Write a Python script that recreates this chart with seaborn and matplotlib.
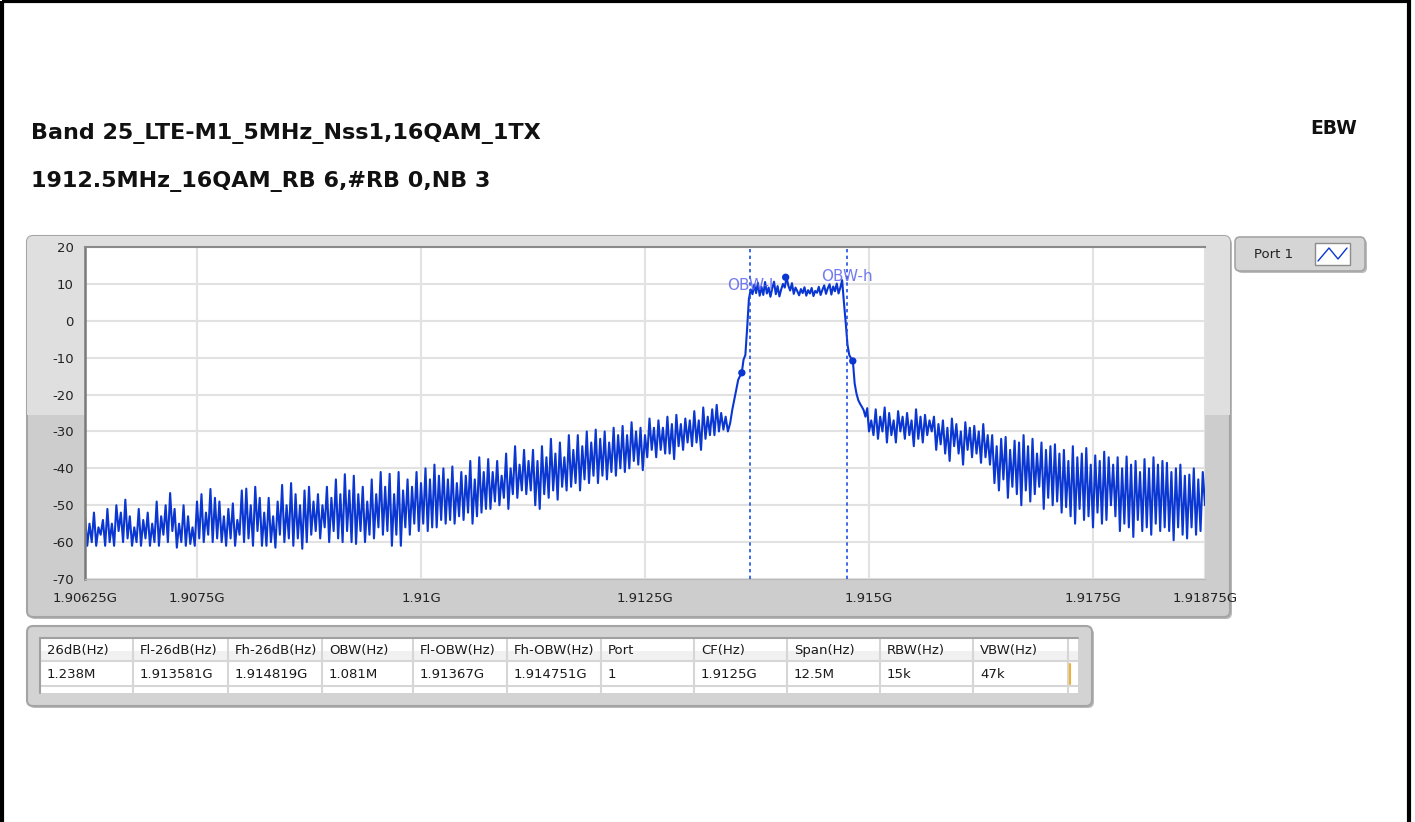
import numpy as np
import matplotlib
matplotlib.use("Agg")
import matplotlib.pyplot as plt
from matplotlib.patches import FancyBboxPatch, Rectangle
import seaborn as sns

title_1 = "Band 25_LTE-M1_5MHz_Nss1,16QAM_1TX"
title_2 = "1912.5MHz_16QAM_RB 6,#RB 0,NB 3"
mode_label = "EBW"
legend_label = "Port 1"

# spectrum trace (dB)
# left skirt, 1.90625G .. 1.9135G, 25 kHz steps
level_left = [
    -53, -61, -55, -60, -52, -61, -56, -58, -54, -61, -51, -60, -55, -61, -50, -57, -52, -60, -48.5, -59,
    -53, -61, -56, -60, -51, -61, -54, -59, -52, -61, -55, -60, -49, -61, -53, -58, -50, -60, -46.7, -57,
    -51, -61.5, -55, -60, -50, -61, -53, -60.5, -56, -61, -49, -59, -47, -60, -52, -58, -45.6, -60, -48, -59,
    -49, -60, -53, -61, -51, -59, -49.5, -61, -54, -58, -46, -60, -45.5, -59, -50, -61, -45, -57, -48, -61,
    -52, -61, -48, -60, -53, -61.5, -49, -58, -44.5, -60, -50, -59, -44, -61, -47, -59, -50, -61.8, -46, -60,
    -45, -58, -49, -57, -47, -59, -50, -56, -45, -60, -48, -57, -43, -59, -47, -60, -41.6, -57, -46, -60,
    -42, -60.5, -47, -57, -45, -60, -49, -58, -43, -59, -47, -56, -41, -58, -45, -57, -41.5, -61, -47, -58,
    -41, -61, -46, -56, -43, -58, -45, -55, -41, -57, -44, -55, -40, -57, -43, -56, -39, -56, -42, -54,
    -40, -55, -43, -54, -39.5, -55, -44, -53, -41, -54, -42, -52, -38, -55, -43, -53, -37, -52, -41, -51,
    -37.5, -51, -41, -49, -38, -50, -42, -48, -36, -51, -40, -47, -34, -48, -39, -46, -35, -47, -38, -46,
    -35, -50, -38, -51, -34, -47, -37, -48, -32, -46, -36, -48.5, -33, -45, -37, -46, -31, -45, -35, -44,
    -31, -46, -34, -43, -30, -44, -33, -42, -29.5, -44, -32, -42, -30, -43, -33, -41, -29, -42, -31, -40,
    -28.5, -41, -31, -40, -27.5, -38, -30, -39, -29, -40.5, -31, -37, -26.5, -35, -29, -37, -27, -35, -29, -36,
    -26, -36, -28, -37.5, -25.5, -34, -28, -35, -26.5, -33, -27, -34, -24.5, -33, -27, -35, -23.5, -32, -26, -31,
    -24, -31, -22.8, -30, -25, -29.5, -26, -30, -27.8, -24, -21,
]
# occupied band, 1.91352G .. 1.915G, 20 kHz steps
level_mid = [
    -18.5, -16, -15, -14.1, -10.5, -9.3, -2, 6,
    8.5, 7.2, 9.8, 7.5, 10.3, 6.8, 9.2, 7.0, 10.5, 7.4,
    9.0, 6.5, 8.8, 10.6, 7.2, 9.4, 6.6, 8.5, 10.0, 9.0,
    11.8, 9.5, 8.2, 10.2, 7.3, 9.0, 8.0, 6.9, 8.6, 7.5,
    9.1, 6.8, 8.3, 7.4, 8.9, 6.7, 8.1, 7.6, 9.2, 7.0,
    8.4, 9.6, 7.3, 8.8, 9.9, 7.1, 9.3, 8.0, 10.1, 7.4,
    9.0, 11.0,
    5.0, -0.5, -6.5, -9.3, -10.2, -10.9, -17, -19.7, -21.5, -22.5,
    -23.3, -24.2, -26, -23.7, -30,
]
# right skirt, 1.915025G .. 1.91875G, 25 kHz steps
level_right = [
    -27, -31, -24, -32, -26, -30, -23.5, -33, -25, -31, -27, -33, -24.5, -30,
    -26, -32, -25, -31, -27, -34, -24, -32, -26, -33, -25.5, -31, -27, -30,
    -26, -35, -28, -33.5, -27, -36, -29, -38, -26.5, -34, -28, -36, -30,
    -39, -27.5, -35, -29, -37, -28.5, -36, -30, -38.5, -28, -37, -31, -39,
    -31, -44, -34, -46, -32, -43, -31.5, -48, -35, -45, -32.5, -47, -33, -50,
    -31, -46, -34, -49, -32, -47, -36, -45, -33, -51, -35, -48, -34, -50,
    -33.5, -49, -36, -52, -35, -50.5, -38, -53, -34, -55, -37, -51, -36, -54,
    -34.5, -53, -39, -56, -36.5, -52, -38, -55, -35.5, -54, -37, -50, -39, -53,
    -37, -57, -40, -55, -36.8, -56, -39, -58.6, -38, -54, -41,
    -57, -37.5, -56, -40, -58, -37, -55, -39, -57, -38, -56,
    -38.5, -57, -41, -59.5, -40, -56, -39, -58, -42,
    -59, -41.7, -56, -40, -58, -43, -57, -41, -50,
]

freq_left = 1.90625 + 0.000025 * np.arange(len(level_left))
freq_mid = 1.9135 + 0.00002 * np.arange(1, len(level_mid) + 1)
freq_right = 1.915 + 0.000025 * np.arange(1, len(level_right) + 1)
freq = np.concatenate([freq_left, freq_mid, freq_right])
level = np.concatenate([level_left, level_mid, level_right])

marker_freq = [1.913581, 1.91407, 1.914819]
marker_level = [-14.1, 11.8, -10.9]

obw_freq = [1.91367, 1.914751]
obw_names = ["OBW-l", "OBW-h"]
obw_text_level = [9.6, 12.1]

x_ticks = [1.90625, 1.9075, 1.91, 1.9125, 1.915, 1.9175, 1.91875]
x_tick_labels = ["1.90625G", "1.9075G", "1.91G", "1.9125G", "1.915G", "1.9175G", "1.91875G"]
y_ticks = [-70, -60, -50, -40, -30, -20, -10, 0, 10, 20]

table_head = ["26dB(Hz)", "Fl-26dB(Hz)", "Fh-26dB(Hz)", "OBW(Hz)", "Fl-OBW(Hz)",
              "Fh-OBW(Hz)", "Port", "CF(Hz)", "Span(Hz)", "RBW(Hz)", "VBW(Hz)"]
table_row = ["1.238M", "1.913581G", "1.914819G", "1.081M", "1.91367G",
             "1.914751G", "1", "1.9125G", "12.5M", "15k", "47k"]
col_edges = [40, 133, 228, 322, 413, 507, 601, 694, 787, 880, 973, 1068]

trace_color = "#0a36d2"
W, H = 1415, 822

sns.set_style("white")
plt.rcParams["font.family"] = ["DejaVu Sans"]

fig = plt.figure(figsize=(W / 100, H / 100), dpi=100)
fig.patch.set_facecolor("white")

# background layer in pixel units
bg = fig.add_axes([0, 0, 1, 1], zorder=0)
bg.set_xlim(0, W)
bg.set_ylim(H, 0)
bg.axis("off")

bg.add_patch(Rectangle((1.5, 1.5), 1407, 840, fill=False, ec="black", lw=3))

bg.text(31, 133, title_1, fontsize=16, fontweight="bold", va="center", color="#111111")
bg.text(31, 181, title_2, fontsize=16, fontweight="bold", va="center", color="#111111")
bg.text(1357, 128, mode_label, fontsize=13.5, fontweight="bold", va="center", ha="right",
        color="#111111")

# graph panel
bg.add_patch(FancyBboxPatch((29, 238), 1203, 381, boxstyle="round,pad=0,rounding_size=6",
                            fc="#b9b9b9", ec="none"))
panel = FancyBboxPatch((27, 236), 1203, 381, boxstyle="round,pad=0,rounding_size=6",
                       fc="#cdcdcd", ec="#a4a4a4", lw=1.5)
bg.add_patch(panel)
top_band = Rectangle((27, 236), 1203, 179, fc="#dfdfdf", ec="none")
bg.add_patch(top_band)
top_band.set_clip_path(panel)

# legend panel
bg.add_patch(FancyBboxPatch((1237, 239), 130, 34, boxstyle="round,pad=0,rounding_size=5",
                            fc="#bcbcbc", ec="none"))
bg.add_patch(FancyBboxPatch((1235, 237), 130, 34, boxstyle="round,pad=0,rounding_size=5",
                            fc="#d5d5d5", ec="#a4a4a4", lw=1.2))
bg.text(1254, 254, legend_label, fontsize=9.5, va="center", color="#222222")
bg.add_patch(Rectangle((1315, 243), 35, 22, fc="white", ec="#8c8c8c", lw=1))
bg.plot([1318, 1329, 1338, 1347], [261, 248, 259, 248], color=trace_color, lw=1)

# table panel
bg.add_patch(FancyBboxPatch((29, 628), 1065, 80, boxstyle="round,pad=0,rounding_size=6",
                            fc="#bcbcbc", ec="none"))
bg.add_patch(FancyBboxPatch((27, 626), 1065, 80, boxstyle="round,pad=0,rounding_size=6",
                            fc="#d3d3d3", ec="#a4a4a4", lw=1.5))
bg.add_patch(Rectangle((40, 638), 1038, 55, fc="white", ec="none"))
bg.add_patch(Rectangle((40, 651), 1038, 10, fc="#f1f1f1", ec="none"))
for yy in (661, 686):
    bg.plot([40, 1078], [yy, yy], color="#d6d6d6", lw=1.5)
for xx in col_edges[1:]:
    bg.plot([xx, xx], [638, 693], color="#d6d6d6", lw=1.5)
bg.plot([40, 40], [638, 693], color="#a0a0a0", lw=1.5)
bg.plot([40, 1078], [638, 638], color="#a0a0a0", lw=1.5)
for x0, head, val in zip(col_edges, table_head, table_row):
    bg.text(x0 + 7, 650, head, fontsize=9.5, va="center", color="#1a1a1a")
    bg.text(x0 + 7, 674, val, fontsize=9.5, va="center", color="#1a1a1a")
bg.plot([1070, 1070], [664, 684], color="#f0b030", lw=1.5)

# spectrum plot
ax = fig.add_axes([85 / W, 1 - 579 / H, 1120 / W, 332 / H], zorder=2)
ax.set_facecolor("white")
sns.lineplot(x=freq, y=level, ax=ax, color=trace_color, linewidth=1.5,
             estimator=None, sort=False)
sns.scatterplot(x=marker_freq, y=marker_level, ax=ax, color=trace_color, s=28,
                edgecolor="none", zorder=4)
for f0, name, yl in zip(obw_freq, obw_names, obw_text_level):
    ax.axvline(f0, color="#1f4fe0", lw=1.2, ls=(0, (2, 2)), zorder=3)
    ax.text(f0, yl, name, fontsize=11, color="#5a63ee", alpha=0.85,
            ha="center", va="center", zorder=5)

ax.set_xlim(x_ticks[0], x_ticks[-1])
ax.set_ylim(-70, 20)
ax.set_xticks(x_ticks)
ax.set_xticklabels(x_tick_labels)
ax.set_yticks(y_ticks)
ax.set_yticklabels([str(v) for v in y_ticks])
ax.grid(True, color="#e2e2e2", lw=1.5)
ax.set_axisbelow(True)
ax.tick_params(axis="both", direction="out", length=5, width=1.3, color="#333333",
               labelsize=9.5, labelcolor="#222222", pad=3)
ax.tick_params(axis="x", pad=4)
ax.spines["left"].set_color("#7a7a7a")
ax.spines["left"].set_linewidth(1.8)
ax.spines["top"].set_color("#8a8a8a")
ax.spines["top"].set_linewidth(1.5)
ax.spines["bottom"].set_color("#b8b8b8")
ax.spines["right"].set_visible(False)
ax.set_xlabel("")
ax.set_ylabel("")

fig.savefig("out.png", dpi=100)
